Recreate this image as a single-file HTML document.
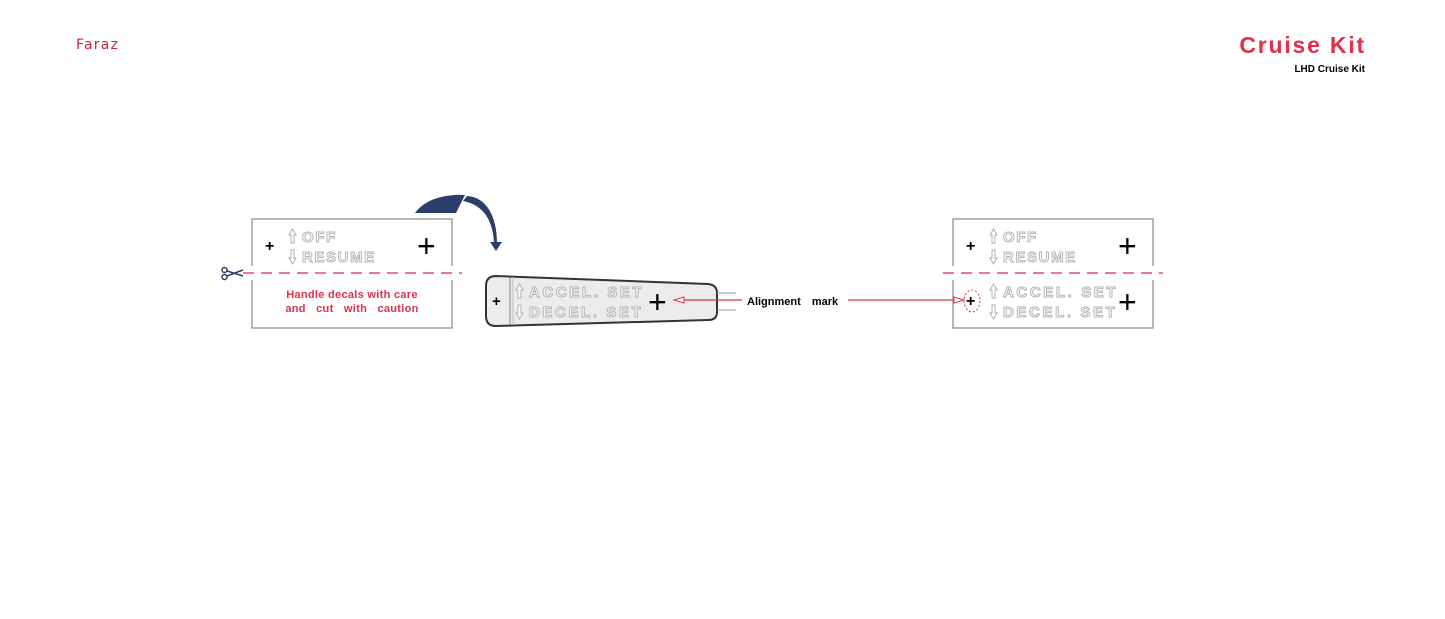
<!DOCTYPE html>
<html><head><meta charset="utf-8"><style>
body{margin:0;width:1445px;height:619px;background:#fff;overflow:hidden}
svg{display:block}
.o{font-family:"Liberation Sans",sans-serif;font-weight:bold;fill:#fff;stroke:#b0b0b0;stroke-width:0.9;letter-spacing:1.6px}
.r{font-family:"Liberation Sans",sans-serif;font-weight:bold;fill:#e0304a}
.k{font-family:"Liberation Sans",sans-serif;font-weight:bold;fill:#000}
</style></head><body>
<svg width="1445" height="619" viewBox="0 0 1445 619">
<defs>
<path id="up" d="M3.5 0 L7 6 L5 6 L5 14 L2 14 L2 6 L0 6 Z" fill="#fff" stroke="#aaa" stroke-width="0.9"/>
<path id="dn" d="M3.5 14 L7 8 L5 8 L5 0 L2 0 L2 8 L0 8 Z" fill="#fff" stroke="#aaa" stroke-width="0.9"/>
</defs>
<text x="76" y="49" style="font-family:'DejaVu Sans',sans-serif;font-size:14px;fill:#c8283e;letter-spacing:1.2px">Faraz</text>
<text x="1366" y="53" class="r" text-anchor="end" style="font-size:23px;letter-spacing:1.8px">Cruise Kit</text>
<text x="1365" y="72" class="k" text-anchor="end" style="font-size:10px">LHD  Cruise Kit</text>

<!-- left box -->
<rect x="252" y="219" width="200" height="109" fill="none" stroke="#888" stroke-width="1.2"/>
<rect x="245" y="266" width="215" height="14" fill="#fff"/>
<line x1="243" y1="273" x2="462" y2="273" stroke="#e0506a" stroke-width="1.5" stroke-dasharray="11,7"/>
<g stroke="#2b3d6b" stroke-width="1.5" fill="none">
<circle cx="224.5" cy="270" r="2.5"/><circle cx="224.5" cy="277" r="2.5"/>
<line x1="227" y1="271" x2="243" y2="276"/><line x1="227" y1="276" x2="243" y2="270"/></g>
<text x="265" y="251" class="k" style="font-size:16px">+</text>
<text x="417" y="257" class="k" style="font-size:32px;font-weight:normal">+</text>
<use href="#up" x="289" y="229"/><use href="#dn" x="289" y="250"/>
<text x="302" y="242" class="o" style="font-size:15px">OFF</text>
<text x="302" y="262" class="o" style="font-size:15px">RESUME</text>
<text x="352" y="298" class="r" text-anchor="middle" style="font-size:11px;letter-spacing:0.3px">Handle decals with care</text>
<text x="352" y="312" class="r" text-anchor="middle" style="font-size:11px;word-spacing:7px;letter-spacing:0.3px">and cut with caution</text>

<!-- curved arrow -->
<path d="M415 213 C425 199 445 194 465 195 L456 213 Z" fill="#2b3d6b"/>
<path d="M467 196 C486 197 497 216 497 243 L494 243 C493 221 484 205 463 201 Z" fill="#2b3d6b"/>
<polygon points="490,242 502,242 496,251" fill="#2b3d6b"/>

<!-- handle -->
<path d="M496 276 L708 284 Q717 285 717 293 L717 312 Q717 320 708 320 L496 326 Q486 326 486 316 L486 286 Q486 276 496 276 Z" fill="#ececec" stroke="#333" stroke-width="2"/>
<line x1="510" y1="277" x2="510" y2="325" stroke="#888" stroke-width="1"/>
<line x1="513" y1="277" x2="513" y2="325" stroke="#bbb" stroke-width="1"/>
<line x1="717" y1="293" x2="736" y2="293" stroke="#999"/>
<line x1="717" y1="310" x2="736" y2="310" stroke="#999"/>
<text x="492" y="306" class="k" style="font-size:15px">+</text>
<text x="648" y="313" class="k" style="font-size:32px;font-weight:normal">+</text>
<use href="#up" x="516" y="284"/><use href="#dn" x="516" y="305"/>
<text x="529" y="297" class="o" style="font-size:15px;letter-spacing:2.6px">ACCEL. SET</text>
<text x="529" y="317" class="o" style="font-size:15px;letter-spacing:2.6px">DECEL. SET</text>
<line x1="684" y1="300" x2="742" y2="300" stroke="#e0304a" stroke-width="1.2"/>
<polygon points="674,300 684,297 684,303" fill="#fff" stroke="#e0304a"/>
<text x="747" y="305" class="k" style="font-size:11px;word-spacing:8px">Alignment mark</text>
<line x1="848" y1="300" x2="956" y2="300" stroke="#e0304a" stroke-width="1.2"/>
<polygon points="964,300 954,297 954,303" fill="#fff" stroke="#e0304a"/>

<!-- right box -->
<rect x="953" y="219" width="200" height="109" fill="none" stroke="#888" stroke-width="1.2"/>
<rect x="945" y="266" width="220" height="14" fill="#fff"/>
<line x1="943" y1="273" x2="1163" y2="273" stroke="#e0506a" stroke-width="1.5" stroke-dasharray="11,7"/>
<text x="966" y="251" class="k" style="font-size:16px">+</text>
<text x="1118" y="257" class="k" style="font-size:32px;font-weight:normal">+</text>
<use href="#up" x="990" y="229"/><use href="#dn" x="990" y="250"/>
<text x="1003" y="242" class="o" style="font-size:15px">OFF</text>
<text x="1003" y="262" class="o" style="font-size:15px">RESUME</text>
<ellipse cx="972" cy="301" rx="8" ry="11" fill="none" stroke="#e0304a" stroke-dasharray="2,2"/>
<text x="966" y="306" class="k" style="font-size:16px">+</text>
<text x="1118" y="313" class="k" style="font-size:32px;font-weight:normal">+</text>
<use href="#up" x="990" y="284"/><use href="#dn" x="990" y="305"/>
<text x="1003" y="297" class="o" style="font-size:15px;letter-spacing:2.6px">ACCEL. SET</text>
<text x="1003" y="317" class="o" style="font-size:15px;letter-spacing:2.6px">DECEL. SET</text>
</svg>
</body></html>
